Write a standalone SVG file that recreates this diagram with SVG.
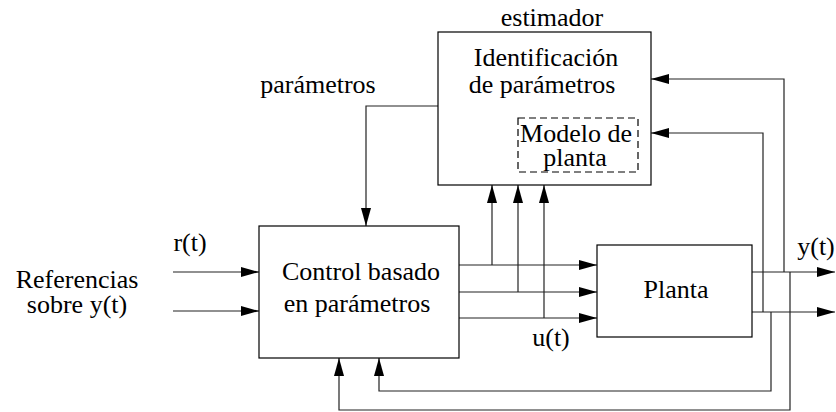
<svg xmlns="http://www.w3.org/2000/svg" width="836" height="412" viewBox="0 0 836 412">
<style>
.box{fill:#fff;stroke:#000;stroke-width:1.2}
.dash{fill:none;stroke:#000;stroke-width:1.2;stroke-dasharray:7,4}
.ln{fill:none;stroke:#222;stroke-width:1.2}
</style>
<defs>
<marker id="ah" markerUnits="userSpaceOnUse" markerWidth="18" markerHeight="10" refX="18" refY="5" orient="auto" viewBox="0 0 18 10">
<path d="M0,0 L18,5 L0,10 z" fill="#000"/>
</marker>
</defs>
<rect width="836" height="412" fill="#fff"/>
<g id="connectors">
<path class="ln" d="M173,272 H259" marker-end="url(#ah)"/>
<path class="ln" d="M173,311 H259" marker-end="url(#ah)"/>
<path class="ln" d="M438,106 H366 V226" marker-end="url(#ah)"/>
<path class="ln" d="M459,265 H597" marker-end="url(#ah)"/>
<path class="ln" d="M459,292 H597" marker-end="url(#ah)"/>
<path class="ln" d="M459,318 H597" marker-end="url(#ah)"/>
<path class="ln" d="M492,265 V185" marker-end="url(#ah)"/>
<path class="ln" d="M518,292 V185" marker-end="url(#ah)"/>
<path class="ln" d="M544,318 V185" marker-end="url(#ah)"/>
<path class="ln" d="M752,272 H835" marker-end="url(#ah)"/>
<path class="ln" d="M752,312 H835" marker-end="url(#ah)"/>
<path class="ln" d="M784,272 V79 H651" marker-end="url(#ah)"/>
<path class="ln" d="M763,312 V133 H651" marker-end="url(#ah)"/>
<path class="ln" d="M771,312 V391 H379 V358" marker-end="url(#ah)"/>
<path class="ln" d="M790,272 V410 H339 V358" marker-end="url(#ah)"/>
</g>
<g font-family="Liberation Serif, Times New Roman, serif" font-size="26" text-anchor="middle" fill="#000">
<g id="estimador">
<rect class="box" x="438" y="32" width="213" height="153"/>
<text x="552" y="26">estimador</text>
<text x="546" y="66">Identificación</text>
<text x="542" y="93">de parámetros</text>
<g id="modelo">
<rect class="dash" x="518" y="118" width="120" height="54"/>
<text x="576" y="142">Modelo de</text>
<text x="575" y="166">planta</text>
</g>
</g>
<g id="control">
<rect class="box" x="259" y="226" width="200" height="132"/>
<text x="361" y="280">Control basado</text>
<text x="357" y="312">en parámetros</text>
</g>
<g id="planta">
<rect class="box" x="597" y="245" width="155" height="92"/>
<text x="676" y="298">Planta</text>
</g>
<g id="labels">
<text x="318" y="93">parámetros</text>
<text x="190" y="251">r(t)</text>
<text x="77" y="288">Referencias</text>
<text x="77" y="313">sobre y(t)</text>
<text x="551" y="346">u(t)</text>
<text x="816" y="255">y(t)</text>
</g>
</g>
</svg>
